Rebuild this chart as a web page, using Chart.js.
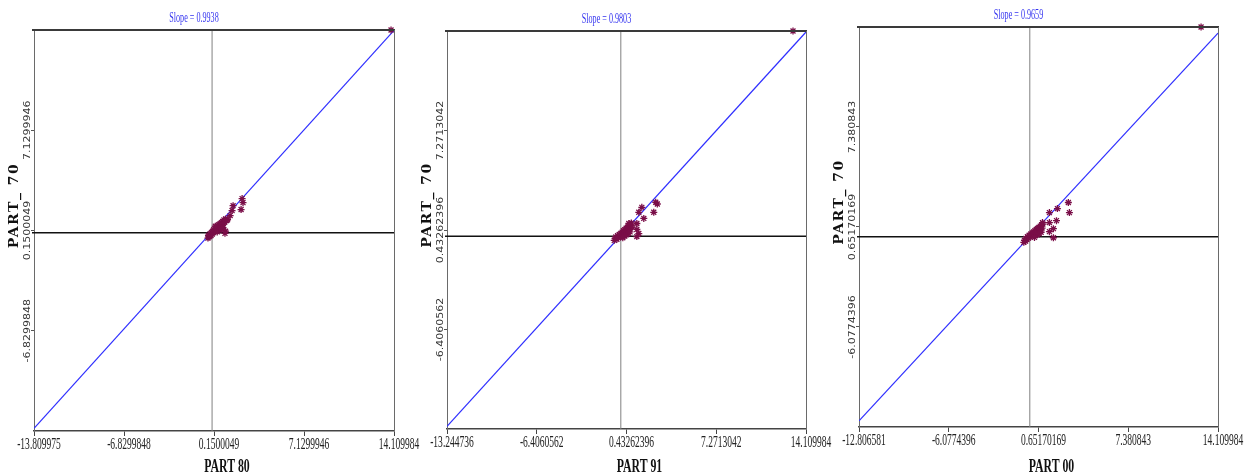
<!DOCTYPE html>
<html><head><meta charset="utf-8">
<script src="https://cdn.jsdelivr.net/npm/chart.js@4.4.0/dist/chart.umd.min.js"></script>
<style>html,body{margin:0;padding:0;background:#fff;overflow:hidden;width:1255px;height:473px}
canvas{position:absolute;left:0;top:0}</style></head>
<body>
<canvas id="c1" width="1255" height="473"></canvas>
<canvas id="c2" width="1255" height="473"></canvas>
<canvas id="c3" width="1255" height="473"></canvas>
<script>
// ---------- data ----------
const slopeTitles = ['Slope = 0.9938', 'Slope = 0.9803', 'Slope = 0.9659'];
const xTitles = ['PART 80', 'PART 91', 'PART 00'];
const yTitle = 'PART_ 70';
const tickLabels1 = ['-13.809975', '-6.8299848', '0.1500049', '7.1299946', '14.109984'];
const tickLabels2 = ['-13.244736', '-6.4060562', '0.43262396', '7.2713042', '14.109984'];
const tickLabels3 = ['-12.806581', '-6.0774396', '0.65170169', '7.380843', '14.109984'];
const points1 = [
 [-0.32,-0.38],[-0.25,-0.30],[-0.28,-0.18],[-0.18,-0.25],[-0.15,-0.08],[-0.08,-0.20],[-0.05,0.02],[0.02,-0.10],
 [0.05,0.10],[0.10,0.00],[0.12,0.20],[0.18,0.08],[0.22,0.28],[0.28,0.15],[0.32,0.38],[0.38,0.22],[0.42,0.48],
 [0.48,0.30],[0.52,0.55],[0.58,0.40],[0.62,0.62],[0.68,0.45],[0.72,0.70],[0.78,0.55],[0.82,0.78],[0.88,0.62],
 [0.92,0.88],[0.98,0.72],[1.05,0.95],[1.12,0.85],[0.60,0.18],[0.75,0.28],[0.85,0.35],[0.40,0.05],[0.25,0.45],
 [1.00,-0.05],[1.05,0.10],[1.20,0.90],[1.40,1.19],[1.55,1.54],[1.63,1.88],[2.25,1.61],[2.33,2.37],[2.40,2.09],
 [13.88,14.11]
];
const points2 = [
 [-0.50,-0.28],[-0.42,-0.15],[-0.38,-0.05],[-0.30,-0.20],[-0.25,0.05],[-0.18,-0.10],[-0.12,0.12],[-0.05,0.00],
 [0.00,0.20],[0.05,0.08],[0.10,0.28],[0.15,0.15],[0.20,0.38],[0.25,0.22],[0.30,0.45],[0.35,0.30],[0.40,0.55],
 [0.45,0.35],[0.50,0.62],[0.55,0.42],[0.60,0.70],[0.65,0.50],[0.70,0.80],[0.75,0.58],[0.80,0.92],[0.85,0.65],
 [0.45,0.10],[0.60,0.20],[0.70,0.30],[0.30,0.02],[0.15,-0.10],[0.61,0.88],[1.22,0.88],[1.22,0.47],[1.37,0.19],
 [1.22,-0.02],[1.75,1.23],[1.37,1.65],[1.60,1.99],[2.51,1.65],[2.66,2.34],[2.78,2.22],
 [13.12,14.11]
];
const points3 = [
 [-0.45,-0.38],[-0.40,-0.25],[-0.32,-0.30],[-0.30,-0.12],[-0.22,-0.20],[-0.18,0.00],[-0.10,-0.10],[-0.05,0.10],
 [0.02,0.00],[0.08,0.18],[0.12,0.05],[0.18,0.25],[0.22,0.12],[0.28,0.32],[0.32,0.18],[0.38,0.40],[0.42,0.25],
 [0.48,0.48],[0.52,0.30],[0.58,0.55],[0.62,0.38],[0.68,0.62],[0.72,0.45],[0.78,0.70],[0.82,0.50],[0.88,0.78],
 [0.92,0.58],[0.98,0.85],[0.55,0.12],[0.70,0.20],[0.85,0.30],[0.35,-0.05],[0.95,0.95],[1.47,0.95],[1.47,1.62],
 [2.00,1.08],[2.07,1.89],[1.77,0.54],[1.47,0.34],[1.77,-0.07],[2.89,2.30],[2.97,1.62],
 [12.84,14.11]
];
const fitLine1 = [[-13.809975,-13.62],[14.109984,14.08]];
const fitLine2 = [[-13.244736,-13.07],[14.109984,14.04]];
const fitLine3 = [[-12.806581,-12.40],[14.109984,13.70]];

// ---------- layout / style ----------
const W = 1255, H = 473;
const panels = [
  {id:'c1', box:{l:34,r:394,t:30,b:431}, ticks:tickLabels1, pts:points1, fit:fitLine1, slope:slopeTitles[0], xt:xTitles[0]},
  {id:'c2', box:{l:447,r:806,t:31,b:429}, ticks:tickLabels2, pts:points2, fit:fitLine2, slope:slopeTitles[1], xt:xTitles[1]},
  {id:'c3', box:{l:859,r:1218,t:27,b:427}, ticks:tickLabels3, pts:points3, fit:fitLine3, slope:slopeTitles[2], xt:xTitles[2]}
];

function compText(ctx, text, x, y, sx, align, baseline, rot){
  ctx.save(); ctx.translate(x, y); ctx.scale(sx, 1); if (rot) ctx.rotate(rot);
  ctx.textAlign = align; ctx.textBaseline = baseline; ctx.fillText(text, 0, 0); ctx.restore();
}

const deco = {
  id: 'deco',
  afterDraw(chart, args, o) {
    const ctx = chart.ctx, a = chart.chartArea, xs = chart.scales.x, ys = chart.scales.y;
    ctx.save();
    // top and right frame
    ctx.strokeStyle = '#3a3a3a'; ctx.lineWidth = 2;
    ctx.beginPath(); ctx.moveTo(a.left - 2, a.top); ctx.lineTo(a.right + 1, a.top); ctx.stroke();
    ctx.strokeStyle = '#6a6a6a'; ctx.lineWidth = 1;
    ctx.beginPath(); ctx.moveTo(a.right + 0.5, a.top); ctx.lineTo(a.right + 0.5, a.bottom); ctx.stroke();
    // short stub of zero line left of axis
    ctx.strokeStyle = '#111'; ctx.lineWidth = 1.5;
    const y0 = ys.getPixelForValue(0);
    ctx.beginPath(); ctx.moveTo(a.left - 2, y0); ctx.lineTo(a.left, y0); ctx.stroke();
    // x tick labels
    ctx.fillStyle = '#222'; ctx.font = '17px "Liberation Serif"';
    xs.ticks.forEach((t, i) => compText(ctx, o.labels[i], xs.getPixelForValue(t.value) + 5, a.bottom + 5, 0.56, 'center', 'top'));
    // y tick labels (rotated), inner three only
    ctx.fillStyle = '#333'; ctx.font = '11px "DejaVu Sans"';
    ys.ticks.forEach((t, i) => {
      if (i === 0 || i === ys.ticks.length - 1) return;
      compText(ctx, o.labels[i], a.left - 2, ys.getPixelForValue(t.value), 0.72, 'center', 'bottom', -Math.PI / 2);
    });
    // slope title
    const cx = (a.left + a.right) / 2, cy = (a.top + a.bottom) / 2;
    ctx.fillStyle = '#3535f0'; ctx.font = '14px "Liberation Serif"';
    compText(ctx, o.slope, cx - 20, a.top - 8, 0.58, 'center', 'alphabetic');
    // x title
    ctx.fillStyle = '#111'; ctx.font = 'bold 19px "Liberation Serif"';
    compText(ctx, o.xt, cx + 13, 472, 0.62, 'center', 'alphabetic');
    // y title
    ctx.font = 'bold 14px "DejaVu Serif"';
    try { ctx.letterSpacing = '1.5px'; } catch (e) {}
    compText(ctx, yTitle, a.left - 19, cy - 25, 0.9, 'center', 'middle', -Math.PI / 2);
    try { ctx.letterSpacing = '0px'; } catch (e) {}
    ctx.restore();
  }
};

panels.forEach(p => {
  const vals = p.ticks.map(Number);
  const mn = vals[0], mx = vals[vals.length - 1];
  const setTicks = s => { s.ticks = vals.map(v => ({value: v})); };
  new Chart(document.getElementById(p.id), {
    type: 'scatter',
    data: {
      datasets: [
        {data: p.pts.map(d => ({x: d[0], y: d[1]})), pointStyle: 'star', pointRadius: 3.5, pointBorderWidth: 1.3,
         borderColor: '#7a0e48', backgroundColor: '#7a0e48', clip: false, order: 0},
        {data: p.fit.map(d => ({x: d[0], y: d[1]})), showLine: true, pointRadius: 0, borderColor: '#2f2fff',
         borderWidth: 1.2, order: 1},
        {data: [{x: mn, y: 0}, {x: mx, y: 0}], showLine: true, pointRadius: 0, borderColor: '#111', borderWidth: 1.5, order: 2},
        {data: [{x: 0, y: mn}, {x: 0, y: mx}], showLine: true, pointRadius: 0, borderColor: '#808080', borderWidth: 1, order: 2}
      ]
    },
    options: {
      responsive: false, animation: false, devicePixelRatio: 1, events: [],
      layout: {padding: {left: p.box.l, right: W - p.box.r, top: p.box.t, bottom: H - p.box.b}},
      plugins: {legend: {display: false}, tooltip: {enabled: false}, title: {display: false},
        deco: {labels: p.ticks, slope: p.slope, xt: p.xt}},
      scales: {
        x: {type: 'linear', min: mn, max: mx, afterBuildTicks: setTicks, afterFit: s => { s.height = 0; },
          ticks: {display: false},
          grid: {drawOnChartArea: false, drawTicks: true, tickLength: 5, color: '#444'},
          border: {display: true, color: '#444', width: 1.5}},
        y: {type: 'linear', min: mn, max: mx, afterBuildTicks: setTicks, afterFit: s => { s.width = 0; },
          ticks: {display: false},
          grid: {drawOnChartArea: false, drawTicks: true, tickLength: 3,
            color: c => (c.index === 0 || c.index === 4) ? 'rgba(0,0,0,0)' : '#555'},
          border: {display: true, color: '#6a6a6a', width: 1}}
      }
    },
    plugins: [deco]
  });
});
</script>
</body></html>
